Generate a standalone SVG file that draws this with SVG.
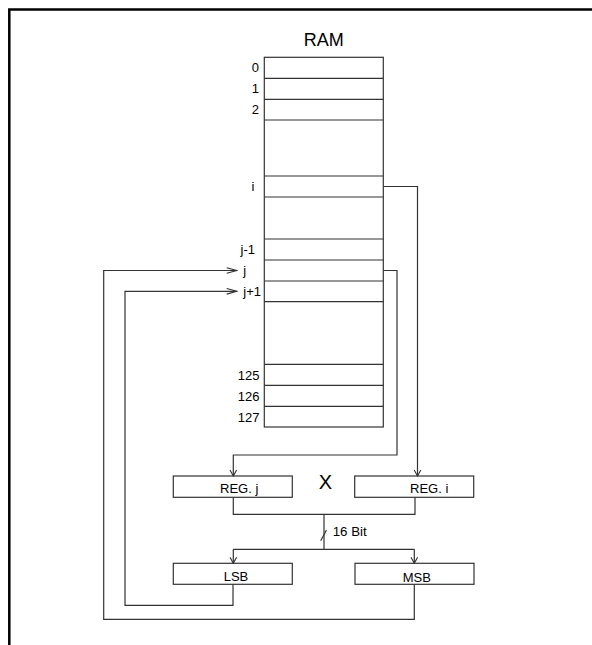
<svg xmlns="http://www.w3.org/2000/svg" width="592" height="645" viewBox="0 0 592 645">
<style>
.ln{fill:none;stroke:#333;stroke-width:1.2}
.bx{fill:#fff;stroke:#333;stroke-width:1.2}
.t{font-family:"Liberation Sans",Arial,sans-serif;fill:#000;font-size:13px}
.tr{text-anchor:end}
.tm{text-anchor:middle}
</style>
<defs>
<marker id="ah" viewBox="-11 -4 12 8" markerWidth="12" markerHeight="8" refX="0" refY="0" orient="auto" markerUnits="userSpaceOnUse">
<path d="M-10,-2.8 L0,0 L-10,2.8" fill="none" stroke="#333" stroke-width="1.1"/>
</marker>
<marker id="av" viewBox="-7 -4 8 8" markerWidth="8" markerHeight="8" refX="0" refY="0" orient="auto" markerUnits="userSpaceOnUse">
<path d="M-6,-3.3 L0,0 L-6,3.3" fill="none" stroke="#333" stroke-width="1.1"/>
</marker>
</defs>
<rect width="592" height="645" fill="#fff"/>
<path d="M9.3,645 V9.5 H592" fill="none" stroke="#000" stroke-width="2.5"/>

<g id="ram">
<text class="t tm" x="323.7" y="45.7" style="font-size:18px">RAM</text>
<rect class="bx" x="264.3" y="57.3" width="119" height="369.7"/>
<path class="ln" d="M264.3,78.3H383.3M264.3,99.3H383.3M264.3,120H383.3M264.3,176H383.3M264.3,197H383.3M264.3,239H383.3M264.3,260H383.3M264.3,281H383.3M264.3,301.7H383.3M264.3,364.3H383.3M264.3,385.3H383.3M264.3,406.3H383.3"/>
<text class="t tr" x="259" y="72">0</text>
<text class="t tr" x="259" y="93">1</text>
<text class="t tr" x="259" y="114">2</text>
<text class="t" x="251.5" y="191">i</text>
<text class="t" x="240.5" y="254">j-1</text>
<text class="t" x="243.3" y="275">j</text>
<text class="t" x="243.3" y="296">j+1</text>
<text class="t tr" x="259.5" y="379.5">125</text>
<text class="t tr" x="259.5" y="400.5">126</text>
<text class="t tr" x="259.5" y="421.5">127</text>
</g>

<g id="regj">
<rect class="bx" x="173.3" y="476" width="119" height="21.3"/>
<text class="t" x="220" y="492.5">REG. j</text>
</g>
<g id="regi">
<rect class="bx" x="354.7" y="476" width="119" height="21.3"/>
<text class="t" x="410" y="492.5">REG. i</text>
</g>
<g id="mul">
<text class="t tm" x="325.3" y="489" style="font-size:20px">X</text>
</g>
<g id="lsb">
<rect class="bx" x="173.3" y="563.3" width="119" height="21"/>
<text class="t tm" x="236" y="580.7">LSB</text>
</g>
<g id="msb">
<rect class="bx" x="355" y="563.3" width="119" height="21"/>
<text class="t tm" x="416.8" y="582.3">MSB</text>
</g>

<g id="connectors">
<path class="ln" d="M383.3,186.5 H417.5 V476" marker-end="url(#av)"/>
<path class="ln" d="M383.3,270.5 H397 V455 H233.3 V476" marker-end="url(#av)"/>
<path class="ln" d="M233.3,497.3 V514.3 H415 V497.3"/>
<path class="ln" d="M324,514.3 V549.3"/>
<path class="ln" d="M233.3,549.3 H414.3"/>
<path class="ln" d="M233.3,549.3 V563.3" marker-end="url(#av)"/>
<path class="ln" d="M414.3,549.3 V563.3" marker-end="url(#av)"/>
<path class="ln" d="M320.7,540.7 L326.5,530"/>
<text class="t" x="332.7" y="536" style="font-size:13.3px">16 Bit</text>
<path class="ln" d="M233,584.3 V605.3 H125 V291.3 H236.7" marker-end="url(#ah)"/>
<path class="ln" d="M414.3,584.3 V619.3 H103.7 V270.5 H236.7" marker-end="url(#ah)"/>
</g>
</svg>
